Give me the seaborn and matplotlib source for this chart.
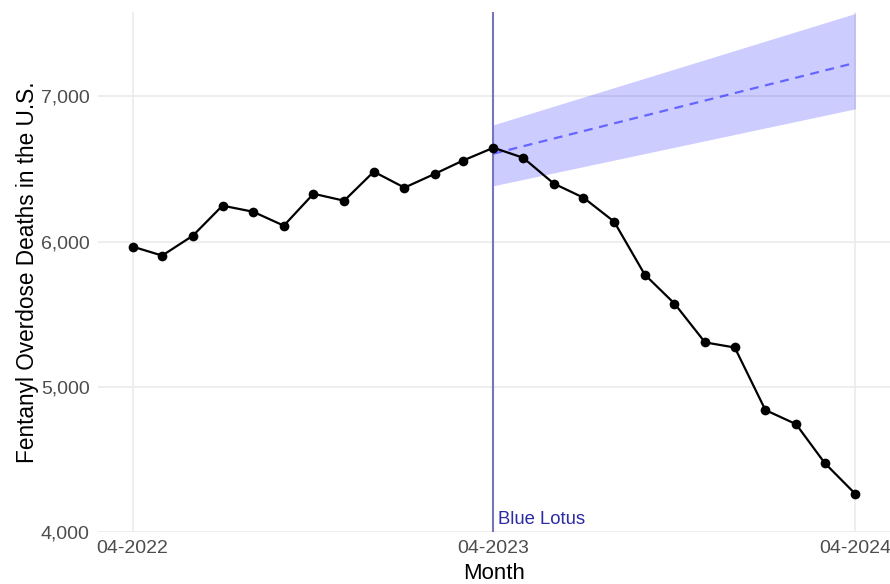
import pandas as pd
import matplotlib.pyplot as plt
import matplotlib.dates as mdates
import seaborn as sns

# monthly deaths, 04-2022 to 04-2024
meses = pd.date_range("2022-04-01", "2024-04-01", freq="MS")
mortes = [5966, 5904, 6041, 6248, 6206, 6110, 6330, 6282, 6482, 6372, 6468, 6558,
          6647, 6578, 6400, 6303, 6138, 5773, 5574, 5306, 5271, 4840, 4743, 4475, 4262]

# forecast trend from 04-2023 to 04-2024
prev_datas = pd.to_datetime(["2023-04-01", "2024-04-01"])
prev_media = [6606, 7232]
prev_inf = [6385, 6915]
prev_sup = [6805, 7572]

intervencao = pd.Timestamp("2023-04-01")

df = pd.DataFrame({"Month": meses, "Deaths": mortes})
df_prev = pd.DataFrame({"Month": prev_datas, "Mean": prev_media,
                        "Low": prev_inf, "High": prev_sup})

sns.set_theme(style="whitegrid")
plt.rcParams["font.family"] = ["Liberation Sans", "DejaVu Sans"]

fig = plt.figure(figsize=(8.9, 5.84), dpi=100)
ax = fig.add_axes([0.110, 0.089, 0.890, 0.890])

ax.fill_between(df_prev["Month"], df_prev["Low"], df_prev["High"],
                color="blue", alpha=0.2, linewidth=0)
sns.lineplot(data=df_prev, x="Month", y="Mean", ax=ax, color="blue",
             alpha=0.5, linestyle=(0, (4, 3)), linewidth=1.6)
ax.axvline(intervencao, color="darkblue", alpha=0.5, linewidth=1.5)
sns.lineplot(data=df, x="Month", y="Deaths", ax=ax, color="black",
             marker="o", markersize=7, linewidth=1.6, markeredgewidth=0)
ax.text(intervencao + pd.Timedelta(days=5), 4030, "Blue Lotus",
        color="#2b2ba6", fontsize=13.3, ha="left", va="bottom")

ax.set_xlim(pd.Timestamp("2022-02-25"), pd.Timestamp("2024-05-06"))
ax.set_ylim(4000, 7580)
ax.xaxis.set_major_locator(mdates.MonthLocator(bymonth=4))
ax.xaxis.set_major_formatter(mdates.DateFormatter("%m-%Y"))
ax.set_yticks([4000, 5000, 6000, 7000])
ax.yaxis.set_major_formatter(plt.FuncFormatter(lambda v, p: f"{int(v):,}"))

ax.grid(True, color="#ebebeb", linewidth=1.2)
for s in ax.spines.values():
    s.set_visible(False)
ax.tick_params(axis="both", labelsize=14, colors="#4d4d4d", length=0)
ax.tick_params(axis="x", pad=6)
ax.tick_params(axis="y", pad=6)
ax.set_xlabel("Month", fontsize=16, color="black", labelpad=4)
ax.set_ylabel("Fentanyl Overdose Deaths in the U.S.", fontsize=16.3, color="black", labelpad=1)

fig.savefig("out.png", dpi=100)
